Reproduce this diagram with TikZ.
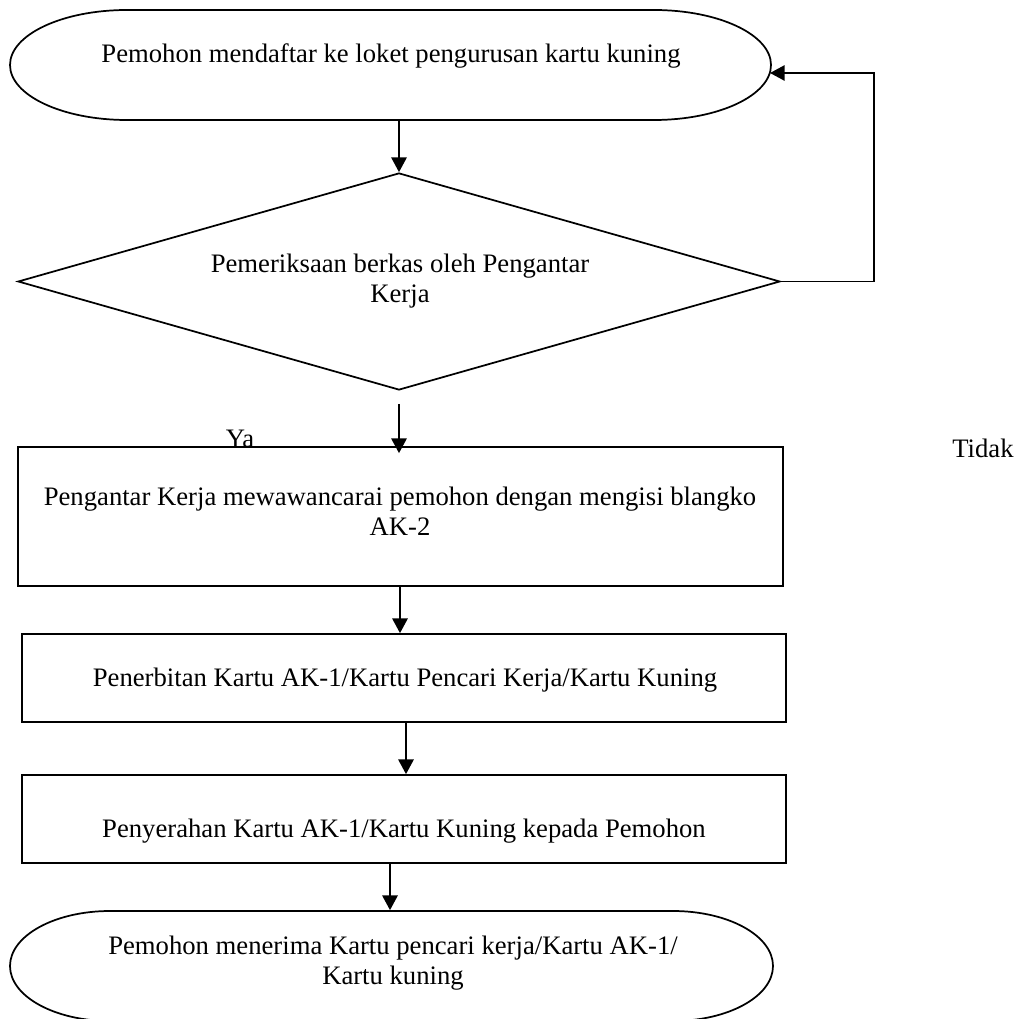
\documentclass[tikz,border=0pt]{standalone}
\usepackage{fontspec}
\setmainfont{Liberation Serif}
\usetikzlibrary{shapes.geometric,arrows.meta,calc,fit}

\begin{document}
\begin{tikzpicture}[x=0.75pt,y=-0.75pt,line width=1.3pt,
  lbl/.style={font=\fontsize{20}{22.5}\selectfont,inner sep=0pt,align=center},
  region/.style={inner sep=0pt},
  stepbox/.style={draw,inner sep=0pt},
  arr/.style={-{Triangle[length=11pt,width=11.5pt]}},
]
\useasboundingbox (0,0) rectangle (1027,1019);

% start terminator
\draw (127,10) -- (654,10)
  arc[start angle=-90,end angle=90,x radius=117,y radius=55]
  -- (127,120)
  arc[start angle=90,end angle=270,x radius=117,y radius=55] -- cycle;
\node[region,fit={(10,10) (771,120)}] (t1) {};
\node[lbl,anchor=base] (t1txt) at (391,63) {Pemohon mendaftar ke loket pengurusan kartu kuning};
\coordinate (t1in) at (770,73);

% decision
\node[draw,diamond,inner sep=0pt,minimum width={762*0.75pt},minimum height={217*0.75pt}]
  (dia) at (399,281.5) {};
\node[lbl] (diatxt) at (400,281) {Pemeriksaan berkas oleh Pengantar\\Kerja};

% process boxes
\node[stepbox,fit={(18,447) (783,586)}] (b1) {};
\node[lbl] (b1txt) at (400,511) {Pengantar Kerja mewawancarai pemohon dengan mengisi blangko\\AK-2};

\node[stepbox,fit={(22,634) (786,722)}] (b2) {};
\node[lbl,anchor=base] (b2txt) at (405,686) {Penerbitan Kartu AK-1/Kartu Pencari Kerja/Kartu Kuning};

\node[stepbox,fit={(22,775) (786,863)}] (b3) {};
\node[lbl,anchor=base] (b3txt) at (404,837) {Penyerahan Kartu AK-1/Kartu Kuning kepada Pemohon};

% end terminator
\draw (110,911) -- (673,911)
  arc[start angle=-90,end angle=90,x radius=100,y radius=55]
  -- (110,1021)
  arc[start angle=90,end angle=270,x radius=100,y radius=55] -- cycle;
\node[region,fit={(10,911) (773,1021)}] (t2) {};
\node[lbl] (t2txt) at (393,963) {Pemohon menerima Kartu pencari kerja/Kartu AK-1/\\Kartu kuning};

% branch labels
\node[lbl,anchor=base] (ya) at (240,447) {Ya};
\node[lbl,anchor=base] (tidak) at (983,457) {Tidak};

% connectors
\draw[arr] (dia.north |- t1.south) -- (dia.north);
\draw[arr] (dia.east) -- ($(dia.east)+(93,0)$) |- (t1in);
\draw[arr] ($(dia.south)+(0,13)$) -- ($(dia.south |- b1.north)+(0,7)$);
\draw[arr] (b1.south -| 400,0) -- (b2.north -| 400,0);
\draw[arr] (b2.south -| 406,0) -- (b3.north -| 406,0);
\draw[arr] (b3.south -| 390,0) -- (t2.north -| 390,0);
\end{tikzpicture}
\end{document}
